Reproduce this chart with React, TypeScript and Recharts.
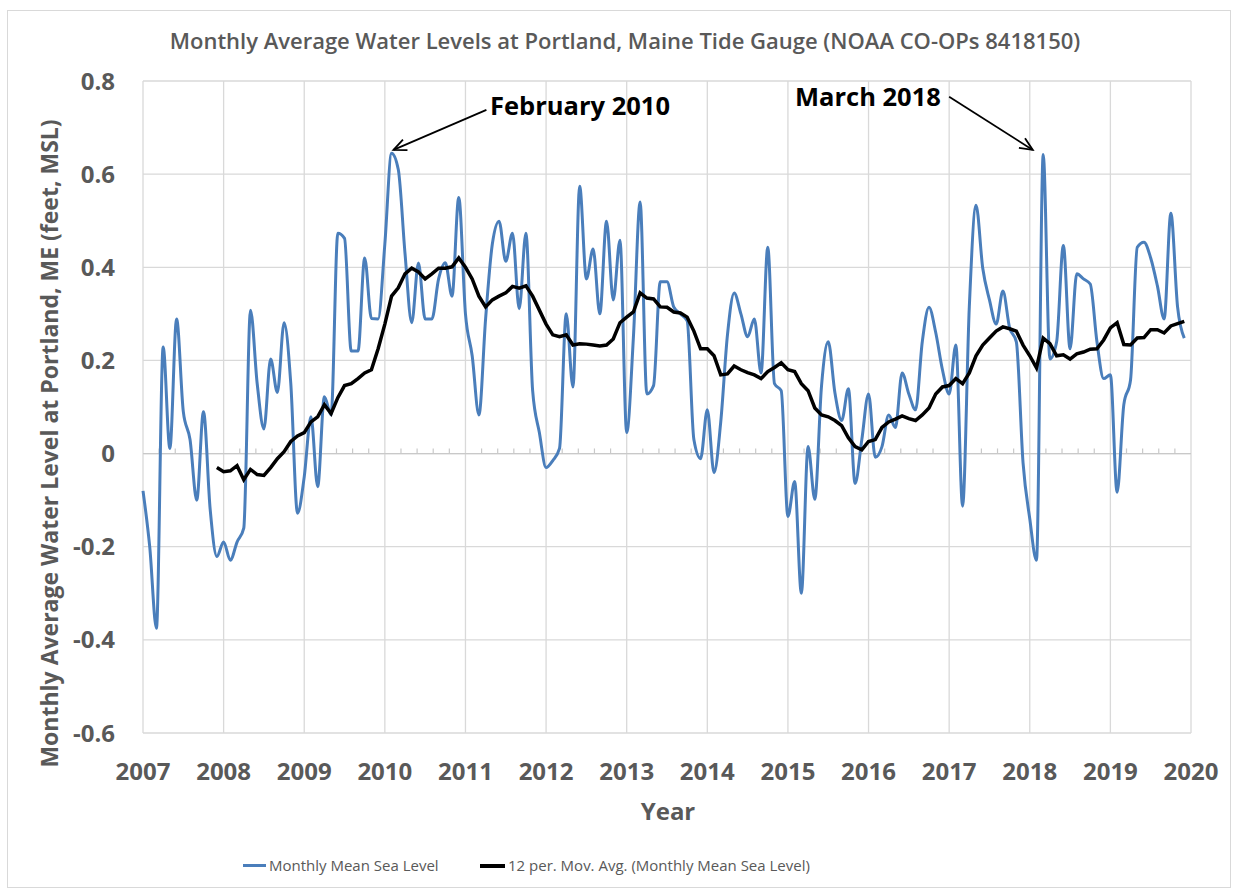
import React from 'react';
import { LineChart, Line, XAxis, YAxis, CartesianGrid, ReferenceLine } from 'recharts';

// Monthly mean sea level (ft, MSL), Jan..Dec of each year
const levels2007 = [-0.08, -0.2, -0.375, 0.229, 0.011, 0.289, 0.09, 0.03, -0.1, 0.09, -0.12, -0.221];
const levels2008 = [-0.19, -0.229, -0.19, -0.16, 0.308, 0.15, 0.053, 0.203, 0.131, 0.281, 0.15, -0.128];
const levels2009 = [-0.05, 0.079, -0.071, 0.122, 0.083, 0.473, 0.462, 0.22, 0.22, 0.42, 0.29, 0.289];
const levels2010 = [0.45, 0.645, 0.61, 0.43, 0.281, 0.409, 0.289, 0.289, 0.375, 0.41, 0.338, 0.55];
const levels2011 = [0.3, 0.21, 0.083, 0.29, 0.45, 0.499, 0.413, 0.473, 0.311, 0.473, 0.135, 0.045];
const levels2012 = [-0.03, -0.015, 0.011, 0.3, 0.143, 0.574, 0.375, 0.439, 0.3, 0.499, 0.33, 0.458];
const levels2013 = [0.045, 0.25, 0.54, 0.128, 0.146, 0.369, 0.369, 0.315, 0.3, 0.285, 0.03, -0.011];
const levels2014 = [0.094, -0.041, 0.068, 0.255, 0.345, 0.3, 0.251, 0.289, 0.173, 0.443, 0.15, 0.135];
const levels2015 = [-0.135, -0.06, -0.3, 0.015, -0.098, 0.145, 0.24, 0.13, 0.071, 0.139, -0.064, 0.03];
const levels2016 = [0.128, -0.008, 0.015, 0.083, 0.056, 0.173, 0.128, 0.094, 0.24, 0.314, 0.26, 0.18];
const levels2017 = [0.128, 0.233, -0.113, 0.315, 0.533, 0.398, 0.33, 0.278, 0.349, 0.27, 0.24, -0.02];
const levels2018 = [-0.14, -0.229, 0.642, 0.203, 0.24, 0.447, 0.225, 0.386, 0.375, 0.364, 0.24, 0.161];
const levels2019 = [0.169, -0.083, 0.105, 0.158, 0.443, 0.454, 0.42, 0.36, 0.289, 0.516, 0.315, 0.248];

// 12 per. moving average, starting Dec 2007
const avg2007 = [-0.03];
const avg2008 = [-0.039, -0.037, -0.026, -0.056, -0.034, -0.045, -0.047, -0.03, -0.011, 0.004, 0.026, 0.038];
const avg2009 = [0.045, 0.068, 0.079, 0.105, 0.086, 0.12, 0.146, 0.15, 0.161, 0.173, 0.18, 0.225];
const avg2010 = [0.278, 0.338, 0.356, 0.386, 0.398, 0.39, 0.375, 0.386, 0.398, 0.398, 0.401, 0.42];
const avg2011 = [0.4, 0.375, 0.338, 0.315, 0.33, 0.338, 0.345, 0.359, 0.355, 0.36, 0.338, 0.308];
const avg2012 = [0.278, 0.255, 0.251, 0.255, 0.233, 0.236, 0.235, 0.233, 0.231, 0.233, 0.246, 0.281];
const avg2013 = [0.293, 0.304, 0.345, 0.334, 0.332, 0.315, 0.314, 0.304, 0.302, 0.293, 0.263, 0.225];
const avg2014 = [0.225, 0.21, 0.169, 0.171, 0.188, 0.18, 0.174, 0.169, 0.161, 0.176, 0.185, 0.195];
const avg2015 = [0.18, 0.176, 0.15, 0.135, 0.098, 0.083, 0.079, 0.071, 0.06, 0.034, 0.015, 0.008];
const avg2016 = [0.026, 0.03, 0.056, 0.068, 0.074, 0.081, 0.075, 0.071, 0.083, 0.098, 0.128, 0.143];
const avg2017 = [0.146, 0.161, 0.15, 0.173, 0.21, 0.233, 0.248, 0.263, 0.272, 0.268, 0.263, 0.233];
const avg2018 = [0.21, 0.184, 0.248, 0.236, 0.21, 0.212, 0.203, 0.214, 0.218, 0.224, 0.225, 0.244];
const avg2019 = [0.27, 0.281, 0.234, 0.233, 0.248, 0.249, 0.266, 0.266, 0.259, 0.274, 0.279, 0.284];

const YEAR_TICKS = [2007, 2008, 2009, 2010, 2011, 2012, 2013, 2014, 2015, 2016, 2017, 2018, 2019, 2020];
const LEVEL_TICKS = [-0.6, -0.4, -0.2, 0, 0.2, 0.4, 0.6, 0.8];

const START_YEAR = 2007;
const FIRST_AVG_INDEX = 11;

const levels = [
  ...levels2007, ...levels2008, ...levels2009, ...levels2010, ...levels2011, ...levels2012, ...levels2013,
  ...levels2014, ...levels2015, ...levels2016, ...levels2017, ...levels2018, ...levels2019,
];
const movAvg = [
  ...avg2007, ...avg2008, ...avg2009, ...avg2010, ...avg2011, ...avg2012, ...avg2013,
  ...avg2014, ...avg2015, ...avg2016, ...avg2017, ...avg2018, ...avg2019,
];

const data = levels.map((v, i) => ({
  t: START_YEAR + i / 12,
  level: v,
  avg: i >= FIRST_AVG_INDEX ? movAvg[i - FIRST_AVG_INDEX] : null,
}));

// minor ticks on the zero axis, every 0.2 year
const minorTicks: number[] = [];
for (let y = 2007; y < 2020; y++) {
  for (let k = 1; k < 5; k++) minorTicks.push(y + k * 0.2);
}

// annotation arrows: [start, tip] in data coordinates
const febArrow = [{ x: 2011.26, y: 0.738 }, { x: 2010.107, y: 0.652 }];
const marArrow = [{ x: 2017.0, y: 0.766 }, { x: 2018.037, y: 0.652 }];

const BLUE = '#4a7ebb';
const GRAY_TEXT = '#595959';
const GRID = '#d9d9d9';
const FONT = '"Open Sans", sans-serif';

const ArrowShape = (props: any) => {
  const { x1, y1, x2, y2 } = props;
  const ang = Math.atan2(y2 - y1, x2 - x1);
  const len = 14;
  const spread = 0.42;
  const ax = x2 - len * Math.cos(ang - spread);
  const ay = y2 - len * Math.sin(ang - spread);
  const bx = x2 - len * Math.cos(ang + spread);
  const by = y2 - len * Math.sin(ang + spread);
  return (
    <g>
      <line x1={x1} y1={y1} x2={x2} y2={y2} stroke="#000" strokeWidth={1.8} />
      <polyline points={`${ax},${ay} ${x2},${y2} ${bx},${by}`} fill="none" stroke="#000" strokeWidth={1.8} />
    </g>
  );
};

const fmt = (v: number) => (v === 0 ? '0' : v.toFixed(1));

export default function App() {
  const tickStyle = { fill: GRAY_TEXT, fontSize: 24, fontWeight: 700, fontFamily: FONT };
  return (
    <div style={{ position: 'absolute', left: 0, top: 0, width: 1238, height: 894, background: '#fff', fontFamily: FONT }}>
      <div style={{ position: 'absolute', left: 7, top: 10, width: 1224, height: 878, border: `1px solid ${GRID}`, boxSizing: 'border-box' }} />
      <LineChart width={1238} height={894} data={data} margin={{ top: 81, right: 47, bottom: 101, left: 0 }}>
        <CartesianGrid stroke={GRID} strokeWidth={1.3} />
        <XAxis
          dataKey="t"
          type="number"
          domain={[2007, 2020]}
          ticks={YEAR_TICKS}
          interval={0}
          tickLine={false}
          axisLine={false}
          tickSize={0}
          tickMargin={30}
          height={60}
          tick={tickStyle}
        />
        <YAxis
          type="number"
          domain={[-0.6, 0.8]}
          ticks={LEVEL_TICKS}
          interval={0}
          tickFormatter={fmt}
          tickLine={false}
          axisLine={false}
          tickSize={0}
          tickMargin={28}
          width={143}
          tick={tickStyle}
        />
        <ReferenceLine y={0} stroke="#c9c9c9" strokeWidth={1.3} />
        {minorTicks.map((x) => (
          <ReferenceLine key={x} segment={[{ x, y: 0 }, { x, y: 0.011 }]} stroke="#c9c9c9" strokeWidth={1.2} />
        ))}
        <Line type="monotone" dataKey="level" stroke={BLUE} strokeWidth={3} dot={false} isAnimationActive={false} />
        <Line type="linear" dataKey="avg" stroke="#000" strokeWidth={3.5} dot={false} isAnimationActive={false} />
        <ReferenceLine segment={febArrow} shape={ArrowShape} />
        <ReferenceLine segment={marArrow} shape={ArrowShape} />
      </LineChart>

      <div style={{ position: 'absolute', left: 0, width: 1250, top: 29, textAlign: 'center', fontSize: 22, fontWeight: 600, color: GRAY_TEXT, lineHeight: 1, whiteSpace: 'nowrap' }}>
        Monthly Average Water Levels at Portland, Maine Tide Gauge (NOAA CO-OPs 8418150)
      </div>
      <div style={{ position: 'absolute', left: 49 - 400, top: 443 - 11.5, width: 800, textAlign: 'center', fontSize: 23, fontWeight: 700, color: GRAY_TEXT, lineHeight: 1, whiteSpace: 'nowrap', transform: 'rotate(-90deg)' }}>
        Monthly Average Water Level at Portland, ME (feet, MSL)
      </div>
      <div style={{ position: 'absolute', left: 568, width: 200, top: 799, textAlign: 'center', fontSize: 24, fontWeight: 700, color: GRAY_TEXT, lineHeight: 1 }}>
        Year
      </div>
      <div style={{ position: 'absolute', left: 490, top: 93, fontSize: 25.5, fontWeight: 700, color: '#000', lineHeight: 1, whiteSpace: 'nowrap' }}>
        February 2010
      </div>
      <div style={{ position: 'absolute', left: 795, top: 84, fontSize: 25.5, fontWeight: 700, color: '#000', lineHeight: 1, whiteSpace: 'nowrap' }}>
        March 2018
      </div>

      <div style={{ position: 'absolute', left: 243, top: 858, display: 'flex', alignItems: 'center', fontSize: 15, color: GRAY_TEXT, lineHeight: 1, whiteSpace: 'nowrap' }}>
        <span style={{ display: 'inline-block', width: 23, height: 3, background: BLUE, marginRight: 3 }} />
        Monthly Mean Sea Level
      </div>
      <div style={{ position: 'absolute', left: 480, top: 858, display: 'flex', alignItems: 'center', fontSize: 15, color: GRAY_TEXT, lineHeight: 1, whiteSpace: 'nowrap' }}>
        <span style={{ display: 'inline-block', width: 25, height: 4, background: '#000', marginRight: 3 }} />
        12 per. Mov. Avg. (Monthly Mean Sea Level)
      </div>
    </div>
  );
}
